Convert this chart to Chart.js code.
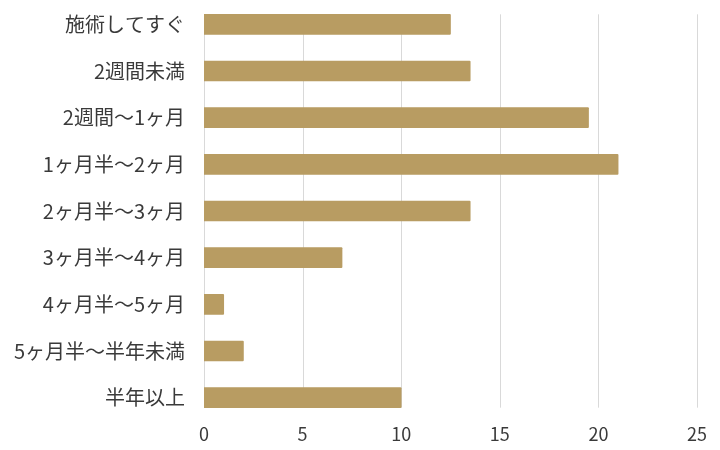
<!DOCTYPE html>
<html lang="ja">
<head>
<meta charset="utf-8">
<script src="https://cdn.jsdelivr.net/npm/chart.js@4/dist/chart.umd.min.js"></script>
<style>
  html, body { margin: 0; padding: 0; background: #fff; }
  #wrap { width: 720px; height: 450px; position: relative; }
</style>
</head>
<body>
<div id="wrap"><canvas id="chart"></canvas></div>
<script>
// 施術後いつ効果を感じたか
const categories = ['施術してすぐ', '2週間未満', '2週間〜1ヶ月', '1ヶ月半〜2ヶ月', '2ヶ月半〜3ヶ月', '3ヶ月半〜4ヶ月', '4ヶ月半〜5ヶ月', '5ヶ月半〜半年未満', '半年以上'];
const counts = [12.5, 13.5, 19.5, 21, 13.5, 7, 1, 2, 10];
const xMax = 25;
const xStep = 5;

const barColor = '#b89c62';
const textColor = '#3a3a3a';
const gridColor = '#d9d9d9';

// gridlines only span from the first bar top to the last bar bottom
const gridPlugin = {
    id: 'barGrid',
    beforeDatasetsDraw(chart) {
        const x = chart.scales.x;
        const y = chart.scales.y;
        const bars = chart.getDatasetMeta(0).data;
        const half = bars[0].height / 2;
        const top = y.getPixelForValue(0) - half;
        const bottom = y.getPixelForValue(categories.length - 1) + half;
        const c = chart.ctx;
        c.save();
        c.strokeStyle = gridColor;
        c.lineWidth = 1;
        x.ticks.forEach(t => {
            const px = Math.round(x.getPixelForValue(t.value)) + 0.5;
            c.beginPath();
            c.moveTo(px, top);
            c.lineTo(px, bottom);
            c.stroke();
        });
        c.restore();
    }
};

new Chart(document.getElementById('chart'), {
    type: 'bar',
    data: {
        labels: categories,
        datasets: [{
            data: counts,
            backgroundColor: barColor,
            barThickness: 20,
            borderRadius: 1
        }]
    },
    options: {
        indexAxis: 'y',
        responsive: true,
        maintainAspectRatio: false,
        animation: false,
        layout: { padding: { top: 1, right: 23, left: 0, bottom: 0 } },
        plugins: { legend: { display: false }, tooltip: { enabled: false } },
        scales: {
            x: {
                min: 0,
                max: xMax,
                ticks: {
                    stepSize: xStep,
                    padding: 2,
                    color: textColor,
                    font: { family: '"Noto Sans CJK JP", "Noto Sans"', size: 18 }
                },
                grid: { display: false, drawTicks: false },
                border: { display: false },
                afterFit: s => { s.height = 29; }
            },
            y: {
                ticks: {
                    padding: 19,
                    color: textColor,
                    font: { family: '"Noto Sans CJK JP", "Noto Sans"', size: 20 }
                },
                grid: { display: false, drawTicks: false },
                border: { display: false },
                afterFit: s => {
                    s.width = 204;
                    s.paddingTop = 0;
                    s.paddingBottom = 0;
                }
            }
        }
    },
    plugins: [gridPlugin]
});
</script>
</body>
</html>
